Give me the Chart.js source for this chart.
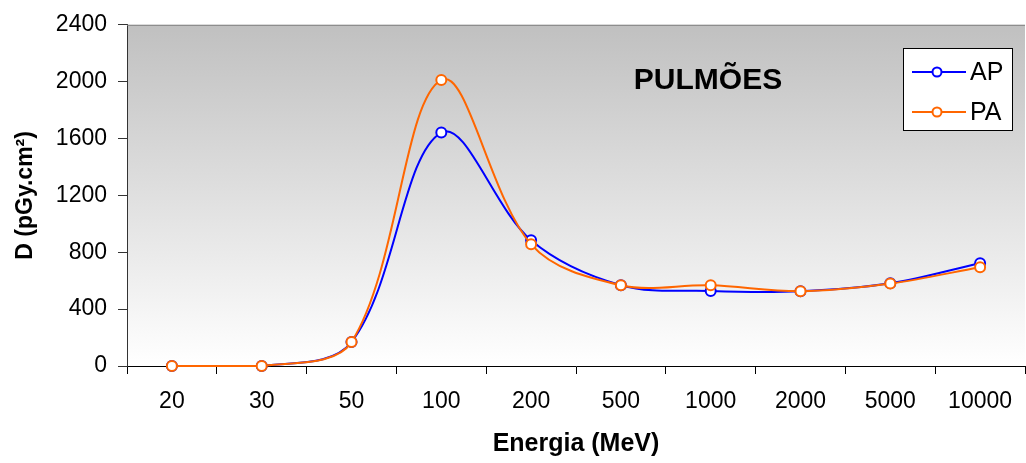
<!DOCTYPE html>
<html>
<head>
<meta charset="utf-8">
<script src="https://cdn.jsdelivr.net/npm/chart.js@4"></script>
<style>
    body { margin: 0; overflow: hidden; background: #fff; }
</style>
</head>
<body>
<canvas id="doseChart" width="1032" height="463"></canvas>
<script>
const categories = ['20', '30', '50', '100', '200', '500', '1000', '2000', '5000', '10000'];
const apValues = [0, 0, 168, 1642, 884, 568, 528, 526, 582, 723];
const paValues = [0, 0, 168, 2012, 856, 568, 568, 526, 580, 695];
const yTicks = [0, 400, 800, 1200, 1600, 2000, 2400];

const FONT = "'Liberation Sans', Arial, sans-serif";

// gradient background, top border, title and the legend box inside the plot
const overlay = {
    id: 'overlay',
    beforeDraw(chart) {
        const { ctx, chartArea: a } = chart;
        const g = ctx.createLinearGradient(0, a.top, 0, a.bottom);
        g.addColorStop(0, '#c0c0c0');
        g.addColorStop(1, '#ffffff');
        ctx.save();
        ctx.fillStyle = g;
        ctx.fillRect(a.left, a.top, a.right - a.left, a.bottom - a.top);
        ctx.restore();
    },
    afterDraw(chart) {
        const { ctx, chartArea: a } = chart;
        ctx.save();
        ctx.strokeStyle = '#808080';
        ctx.lineWidth = 1;
        ctx.beginPath();
        ctx.moveTo(a.left, a.top + 0.5);
        ctx.lineTo(a.right, a.top + 0.5);
        ctx.stroke();

        ctx.fillStyle = '#000';
        ctx.font = 'bold 30px ' + FONT;
        ctx.textAlign = 'center';
        ctx.textBaseline = 'alphabetic';
        ctx.fillText('PULMÕES', 708, 89);

        // legend
        ctx.fillStyle = '#fff';
        ctx.fillRect(903, 48, 109, 82);
        ctx.strokeStyle = '#000';
        ctx.strokeRect(903.5, 48.5, 109, 82);
        chart.data.datasets.forEach((ds, i) => {
            const y = 72 + i * 40;
            ctx.strokeStyle = ds.borderColor;
            ctx.lineWidth = 2;
            ctx.beginPath();
            ctx.moveTo(912, y);
            ctx.lineTo(966, y);
            ctx.stroke();
            ctx.beginPath();
            ctx.arc(937, y, 4.5, 0, Math.PI * 2);
            ctx.fillStyle = '#fff';
            ctx.fill();
            ctx.stroke();
            ctx.fillStyle = '#000';
            ctx.font = '25px ' + FONT;
            ctx.textAlign = 'left';
            ctx.fillText(ds.label, 970, y + 8);
        });
        ctx.restore();
    }
};

new Chart(document.getElementById('doseChart').getContext('2d'), {
    type: 'line',
    data: {
        labels: categories,
        datasets: [{
            label: 'AP',
            data: apValues,
            order: 2,
            clip: false,
            borderColor: '#0000ff',
            borderWidth: 2,
            pointRadius: 5,
            pointBorderWidth: 2,
            pointBackgroundColor: '#fff',
            pointBorderColor: '#0000ff',
            tension: 0.35
        }, {
            label: 'PA',
            data: paValues,
            order: 1,
            clip: false,
            borderColor: '#ff6600',
            borderWidth: 2,
            pointRadius: 5,
            pointBorderWidth: 2,
            pointBackgroundColor: '#fff',
            pointBorderColor: '#ff6600',
            tension: 0.35
        }]
    },
    options: {
        responsive: false,
        animation: false,
        layout: { padding: { top: 23, left: 0, right: 0, bottom: 0 } },
        plugins: {
            legend: { display: false },
            tooltip: { enabled: false }
        },
        scales: {
            x: {
                type: 'category',
                offset: true,
                afterFit(scale) { scale.height = 97; },
                grid: {
                    offset: true,
                    drawOnChartArea: false,
                    tickLength: 8,
                    color: '#000'
                },
                border: { color: '#000', width: 1 },
                ticks: {
                    color: '#000',
                    padding: 14,
                    maxRotation: 0,
                    autoSkip: false,
                    font: { family: FONT, size: 23 }
                },
                title: {
                    display: true,
                    text: 'Energia (MeV)',
                    color: '#000',
                    font: { family: FONT, size: 25, weight: 'bold' },
                    padding: { top: 0, bottom: 4 }
                }
            },
            y: {
                min: 0,
                max: 2400,
                afterFit(scale) { scale.width = 127; },
                afterBuildTicks(scale) { scale.ticks = yTicks.map(v => ({ value: v })); },
                grid: {
                    drawOnChartArea: false,
                    tickLength: 9,
                    color: '#333'
                },
                border: { color: '#333', width: 1 },
                ticks: {
                    color: '#000',
                    padding: 11,
                    font: { family: FONT, size: 23 },
                    callback: v => String(v)
                },
                title: {
                    display: true,
                    text: 'D (pGy.cm²)',
                    color: '#000',
                    font: { family: FONT, size: 23, weight: 'bold' },
                    padding: { top: 12, bottom: 0 }
                }
            }
        }
    },
    plugins: [overlay]
});
</script>
</body>
</html>
